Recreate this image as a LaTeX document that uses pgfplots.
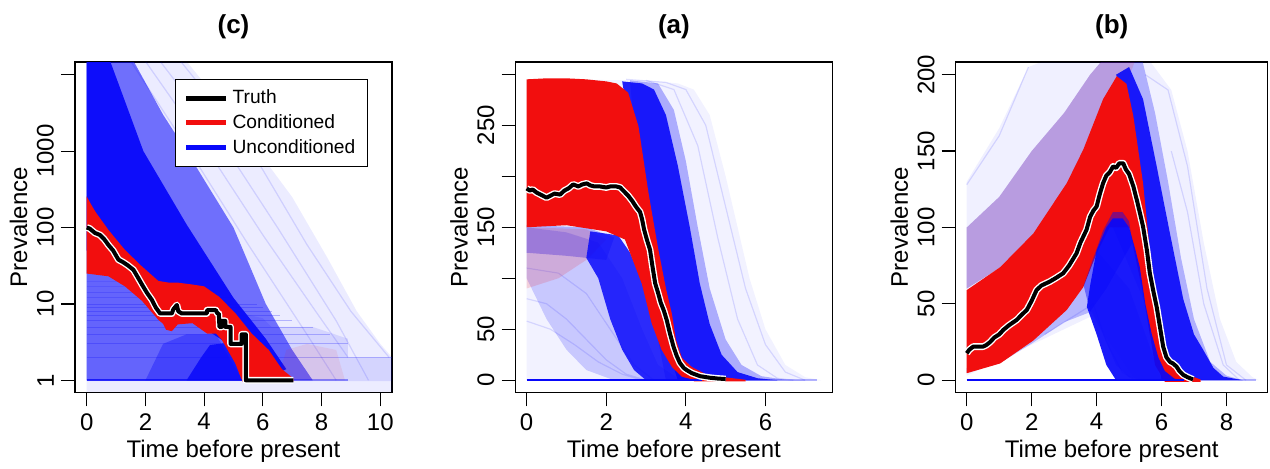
\documentclass[border=0pt]{standalone}
\usepackage{fontspec}
\setmainfont{Liberation Sans}
\usepackage{pgfplots}
\pgfplotsset{compat=1.18}

\definecolor{rred}{RGB}{242,14,14}
\definecolor{rblue}{RGB}{8,8,250}

\pgfplotsset{
  panel/.style={scale only axis, anchor=south west, height=165.15pt,
    axis line style={line width=0.6pt}, tick align=outside,
    xtick pos=bottom, ytick pos=left, major tick length=7pt,
    every tick/.style={black, line width=0.6pt},
    /pgf/number format/assume math mode=true,
    tick label style={font=\fontsize{12}{14}\selectfont},
    yticklabel style={rotate=90, anchor=south},
    label style={font=\fontsize{12}{14}\selectfont},
    title style={font=\bfseries\fontsize{13}{15}\selectfont, at={(0.5,1)}, anchor=center, yshift=11.5pt},
    xlabel={Time before present}, ylabel={Prevalence},
    xlabel style={at={(axis description cs:0.5,-0.178)}, anchor=center},
  },
  band/.style={draw=none, fill=#1, forget plot},
  run/.style={rblue, opacity=0.13, line width=0.6pt, forget plot},
  truthW/.style={white, line width=3.4pt, line join=round, forget plot},
  truthB/.style={black, line width=2pt, line join=round, forget plot},
}

\begin{document}
\begin{tikzpicture}
\path[use as bounding box] (0pt,0pt) rectangle (635pt,234pt);

% ---------------- (c) ----------------
\begin{axis}[panel, at={(37.5pt,37.85pt)}, width=158.5pt,
    title={(c)}, ymode=log, yminorticks=false, xmin=-0.4, xmax=10.4, ymin=0.697, ymax=14690,
    xtick={0,2,...,10}, ytick={1,10,100,1000,10000}, yticklabels={1,10,100,1000,{}},
    ylabel style={at={(axis description cs:-0.178,0.5)}, anchor=center},
    legend style={at={(axis description cs:0.3155,0.9485)}, anchor=north west,
      draw=black, line width=0.6pt, font=\fontsize{9.6}{11}\selectfont,
      inner xsep=4pt, inner ysep=3pt, row sep=0pt, cells={anchor=west}},
    legend cell align=left,
    legend image code/.code={\draw[#1] (0pt,0pt) -- (20pt,0pt);},
  ]
  % faint spread of unconditioned runs
  \addplot[band=rblue, fill opacity=0.08] coordinates {(0,15000)(3.4,15000)(5.5,1500)(7,250)(8.2,40)(9.2,8)(10,3)(10.4,2)(10.4,0.7)(0,0.7)};
  \addplot[run] coordinates {(1.5,15000)(3.5,1000)(5.5,60)(7.5,4)(8.5,1)};
  \addplot[run] coordinates {(2.5,15000)(4.5,1500)(6.5,100)(8.5,6)(9.6,1)};
  \addplot[run] coordinates {(3.2,15000)(5.5,1200)(7.5,60)(9,8)(10.3,2)};
  \addplot[run] coordinates {(2.0,15000)(4.0,1200)(6.0,80)(7.8,8)(8.9,2)};
  \addplot[band=rblue, fill opacity=0.55] coordinates {(0,15000)(1.6,15000)(2.6,3000)(3.4,1000)(5.0,100)(6.1,10)(7.0,2.5)(7.7,1)(0,1)};
  % lower striped runs
  \addplot[band=rblue, fill opacity=0.1] coordinates {(0,0.98)(0,28)(1,22)(2,13)(3,10)(4,10)(5,8)(6,6.5)(6.3,5)(7.7,5)(8.9,3.5)(8.9,2)(10.4,2)(10.4,0.98)};
  \addplot[rblue, opacity=0.25, forget plot] coordinates {(0,2)(10.4,2)};
  \addplot[rblue, opacity=0.25, forget plot] coordinates {(0,3)(8.9,3)};
  \addplot[rblue, opacity=0.25, forget plot] coordinates {(0,4)(8.3,4)};
  \addplot[rblue, opacity=0.25, forget plot] coordinates {(0,5)(7.7,5)};
  \addplot[rblue, opacity=0.25, forget plot] coordinates {(0,6)(7,6)};
  \addplot[rblue, opacity=0.25, forget plot] coordinates {(0,7)(6.6,7)};
  \addplot[rblue, opacity=0.25, forget plot] coordinates {(0,8)(6.3,8)};
  \addplot[rblue, opacity=0.25, forget plot] coordinates {(0,9)(6,9)};
  \addplot[rblue, opacity=0.25, forget plot] coordinates {(0,10)(5.8,10)};
  \addplot[rblue, opacity=0.2, forget plot] coordinates {(0,12)(5,12)};
  \addplot[rblue, opacity=0.2, forget plot] coordinates {(0,14)(4,14)};
  \addplot[rblue, opacity=0.15, forget plot] coordinates {(0,17)(3,17)};
  \addplot[rblue, opacity=0.12, forget plot] coordinates {(0,20)(2,20)};
  % dense unconditioned band
  \addplot[band=rblue, fill opacity=0.95] coordinates {(0,15000)(0.8,15000)(1.93,1000)(3.4,110)(5.0,12)(6.1,3.5)(6.8,1.4)(6.6,1.3)(5.5,2)(0,50)};
  \addplot[band=rblue, fill opacity=0.85] coordinates {(3.4,1)(3.9,2)(4.2,2.9)(4.8,3.1)(5.1,2)(5.35,1)};
  \addplot[band=rblue, fill opacity=0.35] coordinates {(2,1)(2.6,3)(3.4,4)(4.4,4)(5.3,1)};
  % conditioned band
  \addplot[band=rred, fill opacity=0.08] coordinates {(6.5,1)(6.8,2.5)(7.5,3)(8.5,2.5)(8.8,1)};
  \addplot[band=rred] coordinates {(0,255)(0.15,200)(0.3,160)(0.74,93)(1.3,51)(1.88,31)(2.44,20)(2.8,19)(3.1,19)(3.58,18)(4.0,17)(4.2,15)(4.5,12.5)(5.06,7.6)(5.62,4.1)(6.2,2.5)(6.65,1.4)(7.05,1.05)(7.05,0.97)(5.3,0.97)(5.06,1.67)(4.6,3.4)(4.4,4.1)(4.1,4.1)(3.6,5.6)(3.1,5.4)(2.9,4.4)(2.7,4.6)(2.6,5.5)(2.44,6.2)(1.88,11)(1.3,17)(0.74,23)(0,25)};
  \addplot[rblue, line width=1pt, opacity=0.8, forget plot] coordinates {(0,1)(5.3,1)};
  \addplot[rblue, line width=1pt, opacity=0.4, forget plot] coordinates {(7,1)(8.9,1)};
  % truth
  \addplot[truthW] coordinates {(0,100)(0.1,97)(0.28,85)(0.45,80)(0.6,70)(0.74,59)(0.9,50)(1.08,38)(1.25,35)(1.4,32)(1.59,28)(1.75,22)(1.88,18)(2.05,14)(2.22,11.3)(2.35,9)(2.5,7.5)(2.9,7.5)(2.95,8.5)(3.07,9.7)(3.12,8)(3.24,7.5)(4.09,7.5)(4.1,8.3)(4.4,8.3)(4.45,7.5)(4.5,7.5)(4.52,5)(4.6,5)(4.6,6)(4.72,6)(4.72,5)(4.9,5)(4.9,3)(5.28,3)(5.28,4)(5.42,4)(5.42,1)(7.04,1)};
  \addplot[truthB] coordinates {(0,100)(0.1,97)(0.28,85)(0.45,80)(0.6,70)(0.74,59)(0.9,50)(1.08,38)(1.25,35)(1.4,32)(1.59,28)(1.75,22)(1.88,18)(2.05,14)(2.22,11.3)(2.35,9)(2.5,7.5)(2.9,7.5)(2.95,8.5)(3.07,9.7)(3.12,8)(3.24,7.5)(4.09,7.5)(4.1,8.3)(4.4,8.3)(4.45,7.5)(4.5,7.5)(4.52,5)(4.6,5)(4.6,6)(4.72,6)(4.72,5)(4.9,5)(4.9,3)(5.28,3)(5.28,4)(5.42,4)(5.42,1)(7.04,1)};
  \addlegendimage{black, line width=2.5pt}\addlegendentry{Truth}
  \addlegendimage{rred, line width=2.5pt}\addlegendentry{Conditioned}
  \addlegendimage{rblue, line width=2.5pt}\addlegendentry{Unconditioned}
\end{axis}

% ---------------- (a) ----------------
\begin{axis}[panel, at={(257.75pt,37.85pt)}, width=158.4pt,
    title={(a)}, xmin=-0.28, xmax=7.68, ymin=-11.8, ymax=312,
    xtick={0,2,4,6}, ytick={0,50,...,300}, yticklabels={0,50,{},150,{},250,{}},
    ylabel style={at={(axis description cs:-0.178,0.5)}, anchor=center},
  ]
  \addplot[band=rblue, fill opacity=0.05] coordinates {(0,295)(3.0,294)(3.8,291)(4.2,285)(4.6,260)(5.0,200)(5.3,150)(5.6,100)(6.0,50)(6.5,15)(7.0,3)(7.4,0)(0,0)};
  \addplot[run] coordinates {(2.5,295)(3.5,292)(4.0,285)(4.5,250)(5.0,170)(5.5,90)(6.0,35)(6.5,8)(7.0,0)};
  \addplot[run] coordinates {(3.0,294)(3.7,285)(4.3,230)(4.8,140)(5.3,60)(5.8,15)(6.3,2)(6.7,0)};
  \addplot[run] coordinates {(0,80)(0.5,75)(1.0,60)(1.5,40)(2.0,20)(2.5,6)(3.0,0)};
  \addplot[run] coordinates {(0,58)(0.6,50)(1.2,35)(1.8,18)(2.4,6)(2.9,0)};
  \addplot[run] coordinates {(0,110)(0.8,105)(1.5,85)(2.1,50)(2.7,15)(3.2,0)};
  \addplot[band=rblue, fill opacity=0.3] coordinates {(2.6,294)(3.3,291)(3.7,265)(4.0,215)(4.3,150)(4.6,90)(5.0,40)(5.4,15)(5.9,4)(6.5,0.5)(7.0,0)(3.5,0)(3.0,100)};
  \addplot[band=rblue, fill opacity=0.18] coordinates {(0,150)(1,145)(1.8,135)(2.4,100)(2.9,50)(3.3,15)(3.8,2)(4.3,0)(2.2,0)(1.5,10)(1.0,30)(0.5,60)(0,100)};
  \addplot[band=rblue, fill opacity=0.3] coordinates {(0,152)(1.5,150)(2.2,140)(2.0,118)(1.0,122)(0,125)};
  \addplot[band=rred, fill opacity=0.15] coordinates {(0,90)(0,150)(1.5,148)(2.0,138)(1.5,118)(0.8,100)};
  \addplot[band=rblue, fill opacity=0.9] coordinates {(2.4,293)(2.9,291)(3.2,285)(3.5,260)(3.8,210)(4.1,150)(4.35,95)(4.6,55)(4.9,25)(5.3,8)(5.8,2)(6.3,0)(3.8,0)(3.3,60)(2.8,200)};
  \addplot[band=rblue, fill opacity=0.85] coordinates {(1.6,146)(2.3,142)(2.6,125)(2.95,92)(3.2,55)(3.45,28)(3.7,12)(3.95,3)(4.3,0)(3.0,0)(2.7,10)(2.4,30)(2.1,60)(1.8,100)(1.5,120)};
  \addplot[band=rred] coordinates {(0,295)(0.5,296)(1,296)(1.5,295)(2.0,293)(2.26,291)(2.55,282)(2.81,249)(3.06,184)(3.3,130)(3.5,90)(3.65,65)(3.75,40)(3.9,22)(4.15,13)(4.5,6)(4.85,3.5)(5.5,0.5)(5.5,-1)(4.2,-1)(4.2,0.5)(3.9,3.5)(3.65,13)(3.39,30)(3.14,56)(2.89,95)(2.47,138)(2,146)(1,152)(0,150)};
  \addplot[rblue, line width=1pt, forget plot] coordinates {(0,0)(4.4,0)};
  \addplot[rblue, line width=1pt, opacity=0.3, forget plot] coordinates {(5.5,0)(7.3,0)};
  \addplot[truthW] coordinates {(0,188)(0.08,186)(0.15,187)(0.25,184)(0.35,182)(0.5,179)(0.6,181)(0.7,183)(0.84,182)(0.95,186)(1.05,188)(1.17,192)(1.3,190)(1.4,192)(1.51,193)(1.6,191)(1.7,190)(1.84,190)(2.0,189)(2.1,190)(2.25,190)(2.35,189)(2.45,185)(2.55,181)(2.65,176)(2.75,170)(2.85,165)(2.9,158)(2.95,148)(3.02,138)(3.1,128)(3.16,112)(3.23,95)(3.3,86)(3.37,76)(3.45,68)(3.52,59)(3.6,46)(3.69,33)(3.77,24)(3.85,17)(3.95,12)(4.02,10)(4.15,7)(4.36,4)(4.6,2.5)(4.8,1.7)(5.0,1.2)};
  \addplot[truthB] coordinates {(0,188)(0.08,186)(0.15,187)(0.25,184)(0.35,182)(0.5,179)(0.6,181)(0.7,183)(0.84,182)(0.95,186)(1.05,188)(1.17,192)(1.3,190)(1.4,192)(1.51,193)(1.6,191)(1.7,190)(1.84,190)(2.0,189)(2.1,190)(2.25,190)(2.35,189)(2.45,185)(2.55,181)(2.65,176)(2.75,170)(2.85,165)(2.9,158)(2.95,148)(3.02,138)(3.1,128)(3.16,112)(3.23,95)(3.3,86)(3.37,76)(3.45,68)(3.52,59)(3.6,46)(3.69,33)(3.77,24)(3.85,17)(3.95,12)(4.02,10)(4.15,7)(4.36,4)(4.6,2.5)(4.8,1.7)(5.0,1.2)};
\end{axis}

% ---------------- (b) ----------------
\begin{axis}[panel, at={(477.85pt,37.85pt)}, width=156pt,
    title={(b)}, xmin=-0.34, xmax=9.27, ymin=-7.9, ymax=208.3,
    xtick={0,2,4,6,8}, ytick={0,50,...,200},
    ylabel style={at={(axis description cs:-0.181,0.5)}, anchor=center},
  ]
  \addplot[band=rblue, fill opacity=0.06] coordinates {(0,130)(1.0,165)(1.9,205)(2.5,210)(5.6,210)(6.3,190)(6.8,150)(7.3,90)(7.8,40)(8.3,12)(8.8,2)(9.0,0)(5.2,0)(3.85,42)(0,3)};
  \addplot[run] coordinates {(0,128)(1,160)(1.9,205)};
  \addplot[run] coordinates {(5.5,200)(6.2,190)(6.8,140)(7.4,60)(8,10)(8.6,0)};
  \addplot[run] coordinates {(6.3,150)(6.8,110)(7.3,50)(7.9,10)(8.4,0)};
  \addplot[run] coordinates {(2.4,30)(3.3,42)(3.9,50)(4.3,25)(4.8,5)(5.2,0)};
  \addplot[band=rblue, fill opacity=0.28] coordinates {(0,60)(0,100)(1,120)(2,150)(3,175)(3.8,200)(4.2,210)(5.4,210)(5.8,175)(6.2,130)(6.6,80)(7.0,40)(7.5,12)(8.0,3)(8.5,0)(6.5,0)(4.5,100)(3,120)(1.5,80)};
  \addplot[band=rred, fill opacity=0.12] coordinates {(0,60)(0,100)(1,120)(2,150)(3,175)(3.8,200)(4.2,210)(5.2,210)(4.5,170)(3,120)(1.5,80)};
  \addplot[band=rblue, fill opacity=0.25] coordinates {(0,5)(1,11)(2,24)(3,38)(3.85,45)(4.2,30)(4.6,10)(5.0,2)(5.5,0)(6.0,0)(5.0,60)(4.0,85)(3.0,50)(2.0,30)(1,14)(0,8)};
  \addplot[band=rblue, fill opacity=0.9] coordinates {(4.6,200)(5.0,205)(5.43,184)(5.85,140)(6.26,96)(6.67,53)(7.0,30)(7.28,20)(7.6,8)(7.9,2.4)(8.5,0)(6.0,0)(5.6,50)(5.3,120)(5.0,180)};
  \addplot[band=rred] coordinates {(0,59)(1.03,74)(2.05,96)(3.08,129)(3.59,151)(4.2,184)(4.62,199)(4.92,194)(5.13,173)(5.43,129)(5.64,85)(5.85,53)(6.15,20)(6.4,8)(6.67,4.6)(7.2,0.5)(7.2,-1)(6.1,-1)(5.8,10)(5.4,60)(5.0,100)(4.4,100)(4.0,83)(3.59,61)(3.08,46)(2.05,26)(1.03,11)(0,4.6)};
  \addplot[band=rblue, fill opacity=0.45] coordinates {(3.6,62)(3.9,80)(4.2,98)(4.5,110)(4.8,110)(5.0,104)(5.1,90)(4.3,60)(3.8,45)};
  \addplot[band=rblue, fill opacity=0.92] coordinates {(3.8,62)(4.0,85)(4.3,100)(4.5,106)(4.8,106)(5.0,100)(5.2,85)(5.33,74)(5.5,50)(5.7,30)(5.9,15)(6.1,6)(6.4,1)(6.7,0)(4.6,0)(4.3,10)(4.0,30)(3.7,48)};
  \addplot[rblue, line width=1pt, forget plot] coordinates {(0,0)(6.7,0)};
  \addplot[rblue, line width=1pt, opacity=0.3, forget plot] coordinates {(7.2,0)(8.9,0)};
  \addplot[truthW] coordinates {(0,17.7)(0.08,20)(0.2,22)(0.5,22)(0.6,23)(0.72,25)(0.85,28)(1.0,30)(1.13,33)(1.3,36)(1.54,39.5)(1.7,43)(1.85,46)(2.0,52)(2.15,59)(2.3,62)(2.56,64.6)(2.75,67)(2.97,70)(3.15,75)(3.38,83)(3.5,90)(3.69,98.5)(3.8,107)(3.9,111)(4.0,113.7)(4.1,122)(4.2,129)(4.3,134)(4.4,136)(4.51,140)(4.6,139)(4.7,142)(4.82,142)(4.9,138)(5.0,135)(5.13,127)(5.25,117)(5.35,108)(5.43,100.6)(5.55,85)(5.64,70)(5.75,58)(5.85,48)(5.95,35)(6.05,22)(6.15,15)(6.26,12)(6.35,11)(6.46,9)(6.55,6)(6.67,3.5)(6.8,2)(6.97,0.5)};
  \addplot[truthB] coordinates {(0,17.7)(0.08,20)(0.2,22)(0.5,22)(0.6,23)(0.72,25)(0.85,28)(1.0,30)(1.13,33)(1.3,36)(1.54,39.5)(1.7,43)(1.85,46)(2.0,52)(2.15,59)(2.3,62)(2.56,64.6)(2.75,67)(2.97,70)(3.15,75)(3.38,83)(3.5,90)(3.69,98.5)(3.8,107)(3.9,111)(4.0,113.7)(4.1,122)(4.2,129)(4.3,134)(4.4,136)(4.51,140)(4.6,139)(4.7,142)(4.82,142)(4.9,138)(5.0,135)(5.13,127)(5.25,117)(5.35,108)(5.43,100.6)(5.55,85)(5.64,70)(5.75,58)(5.85,48)(5.95,35)(6.05,22)(6.15,15)(6.26,12)(6.35,11)(6.46,9)(6.55,6)(6.67,3.5)(6.8,2)(6.97,0.5)};
\end{axis}
\end{tikzpicture}
\end{document}
